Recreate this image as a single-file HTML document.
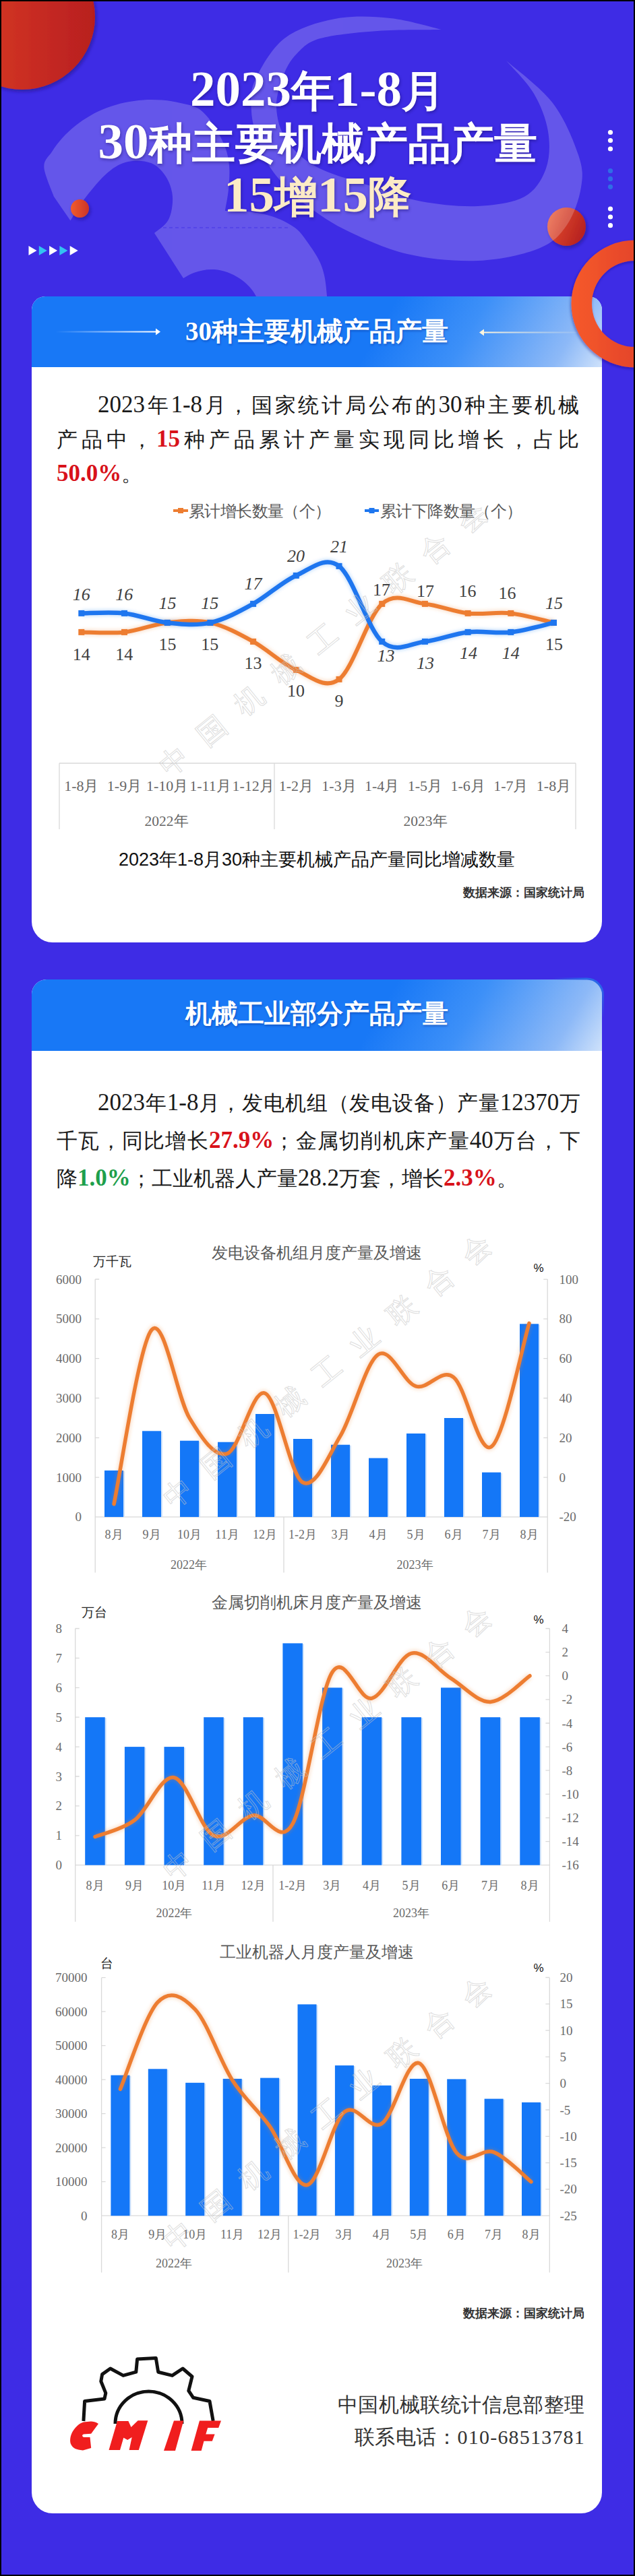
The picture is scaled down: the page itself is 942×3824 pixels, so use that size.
<!DOCTYPE html>
<html><head><meta charset="utf-8">
<style>
*{margin:0;padding:0;box-sizing:border-box}
html,body{width:942px;height:3824px;overflow:hidden;background:#000}
body{position:relative;font-family:"Liberation Serif",serif}
#bg{position:absolute;left:2px;top:2px;width:938px;height:3820px;background:#3e2ce5;overflow:hidden}
#pg{position:absolute;left:-2px;top:-2px;width:942px;height:3824px}
.abs{position:absolute}
svg{position:absolute;left:0;top:0;overflow:visible}
.title{position:absolute;left:0;width:942px;text-align:center;font-family:"Liberation Serif",serif;font-weight:900;color:#fff;font-size:64px;line-height:80px;white-space:nowrap;text-shadow:1px 2px 4px rgba(20,10,90,.45)}
.dg{font-size:75px}
.card{position:absolute;left:47px;width:846px;background:#fff;overflow:hidden}
.chead{position:absolute;left:0;top:0;width:846px;background:linear-gradient(120deg,#1878f6 0%,#1878f6 60%,#3d90f8 75%,#8db9f7 92%,#cfe2fb 100%)}
.htxt{position:absolute;left:0;width:846px;text-align:center;color:#fff;font-weight:900;font-size:39px;white-space:nowrap;text-shadow:1px 2px 3px rgba(0,30,120,.35)}
.para{position:absolute;left:37px;width:774px;font-size:30.5px;color:#1a1a1a;text-align:justify;text-align-last:auto}
.red{color:#d8121a;font-weight:bold}
.pd{font-size:35px}
.grn{color:#1e9f4c;font-weight:bold;-webkit-text-stroke:0}
</style></head><body>
<div id="bg"><div id="pg">

<svg width="942" height="600" viewBox="0 0 942 600">
<defs>
<linearGradient id="rc1" x1="0" y1="0" x2="1" y2="0"><stop offset="0" stop-color="#dd3d24"/><stop offset="1" stop-color="#b81f1f"/></linearGradient>
<linearGradient id="sph" x1="0" y1="0" x2="1" y2="0.4"><stop offset="0" stop-color="#f0663e"/><stop offset="0.5" stop-color="#d23b28"/><stop offset="1" stop-color="#b82420"/></linearGradient>
<linearGradient id="sph2" x1="0" y1="0" x2="1" y2="0"><stop offset="0" stop-color="#f25c2c"/><stop offset="1" stop-color="#cc3428"/></linearGradient>
<filter id="shd" x="-30%" y="-30%" width="160%" height="160%"><feDropShadow dx="2" dy="3" stdDeviation="2.5" flood-color="#1a0f70" flood-opacity="0.55"/></filter>
</defs>
<circle cx="33" cy="25" r="108" fill="url(#rc1)" filter="url(#shd)"/>
<circle cx="840.5" cy="336.5" r="28.5" fill="url(#sph)" filter="url(#shd)"/>
<g opacity="0.2"><path d="M80,292 C77.5,284.7 65.8,259.1 65.3,248 C64.7,236.9 72.4,232.6 76.9,225.4 C81.4,218.2 86.7,211.2 92.5,204.8 C98.3,198.3 104.8,192.2 111.7,186.7 C118.6,181.2 126.1,176.1 133.9,171.7 C141.7,167.2 150.1,163.3 158.6,160.1 C167.1,156.8 176,154.2 185,152.3 C194,150.3 203.3,149 212.5,148.4 C221.8,147.8 231.2,147.9 240.4,148.6 C249.6,149.4 258.9,150.8 267.9,152.9 C276.8,155 286.3,156.1 294.1,161.1 C302,166.2 308.5,173.9 315,183 C321.5,192.1 328.8,205.5 333,216 C337.2,226.5 339,235.2 340,246 C341,256.8 340,270 339,281 C338,292 334.8,306.8 334,312 L334,313 C339.3,313.2 354.5,312.7 366,314 C377.5,315.3 391.3,317.2 403,321 C414.7,324.8 427.3,330.8 436,337 C444.7,343.2 448.2,348.3 455,358 C461.8,367.7 472,381.3 477,395 C482,408.7 483.3,419.2 485,440 C486.7,460.8 486.7,506.7 487,520 L380,520 L380,440 C370,420 345,402 318,400 C295,399 280,408 272,413 L229,346 C232.5,342.7 245.5,335 250,326 C254.5,317 256.7,302.7 256,292 C255.3,281.3 251.3,270.3 246,262 C240.7,253.7 233.3,245.7 224,242 C214.7,238.3 200.7,237.7 190,240 C179.3,242.3 170.5,247.2 160,256 C149.5,264.8 136.2,281.1 127,293 C117.8,304.9 108.2,321.8 104.5,327.5Z" fill="#ffffff"/>
<path d="M655,44 C642.3,41.2 605.3,29.7 579,27 C552.7,24.3 523.2,23 497,28 C470.8,33 441.8,41.7 422,57 C402.2,72.3 386.2,102 378,120 C369.8,138 372.5,151.2 373,165 C373.5,178.8 377.2,190.3 381,203 C384.8,215.7 389.3,229.2 396,241 C402.7,252.8 412,264 421,274 C430,284 435.2,290 450,301 C464.8,312 484.3,327.3 510,340 C535.7,352.7 570.8,369.2 604,377 C637.2,384.8 676.5,388.3 709,387 C741.5,385.7 777,377.8 799,369 C821,360.2 830.5,349.2 841,334 C851.5,318.8 859.2,295.3 862,278 C864.8,260.7 865,250.8 858,230 C851,209.2 837.8,176.3 820,153 C802.2,129.7 762.5,100.5 751,90 L751,90 C757.8,98.2 781.7,121.5 792,139 C802.3,156.5 810,176.5 813,195 C816,213.5 815.8,233.8 810,250 C804.2,266.2 794.8,282.7 778,292 C761.2,301.3 734.5,304.8 709,306 C683.5,307.2 650.5,303.7 625,299 C599.5,294.3 581.8,286.5 556,278 C530.2,269.5 491.8,259.7 470,248 C448.2,236.3 435,222.7 425,208 C415,193.3 410.8,175.8 410,160 C409.2,144.2 415,126.3 420,113 C425,99.7 430.8,89.3 440,80 C449.2,70.7 455,62.7 475,57 C495,51.3 530,48.2 560,46 C590,43.8 639.2,44.3 655,44Z" fill="#ffffff"/></g>
<circle cx="118.5" cy="309.5" r="13.5" fill="url(#sph2)" filter="url(#shd)"/>
<line x1="233" y1="338" x2="430" y2="338" stroke="#3e2ce5" stroke-width="1.2" stroke-dasharray="5 4" opacity="0.8"/>

<circle cx="905.5" cy="196.5" r="3.6" fill="#fff"/>
<circle cx="905.5" cy="208.5" r="3.6" fill="#fff"/>
<circle cx="905.5" cy="221" r="3.6" fill="#fff"/>
<circle cx="905.5" cy="253.6" r="3.6" fill="#2f6de6"/>
<circle cx="905.5" cy="265.4" r="3.6" fill="#2f6de6"/>
<circle cx="905.5" cy="277.3" r="3.6" fill="#2f6de6"/>
<circle cx="905.5" cy="310" r="3.6" fill="#fff"/>
<circle cx="905.5" cy="322" r="3.6" fill="#fff"/>
<circle cx="905.5" cy="334.7" r="3.6" fill="#fff"/>
<path d="M42.5,365 L54.5,372 L42.5,379Z" fill="#ffffff"/>
<path d="M57.8,365 L69.8,372 L57.8,379Z" fill="#33c3f2"/>
<path d="M73.1,365 L85.1,372 L73.1,379Z" fill="#ffffff"/>
<path d="M88.4,365 L100.4,372 L88.4,379Z" fill="#33c3f2"/>
<path d="M103.7,365 L115.7,372 L103.7,379Z" fill="#ffffff"/>
</svg>
<div class="title" style="top:92px"><span class="dg">2023</span>年<span class="dg">1-8</span>月</div>
<div class="title" style="top:170px"><span class="dg">30</span>种主要机械产品产量</div>
<div class="title" style="top:249px;color:#fcebc6"><span class="dg">15</span>增<span class="dg">15</span>降</div>
<div class="card" style="top:440px;height:959px;border-radius:20px 20px 31px 31px">
<div class="chead" style="height:105px"></div>
</div>
<div class="htxt" style="left:47px;top:466px;line-height:52px">30种主要机械产品产量</div>
<svg width="942" height="600" style="top:0">
<defs>
<linearGradient id="al" x1="0" y1="0" x2="1" y2="0"><stop offset="0" stop-color="#fff" stop-opacity="0"/><stop offset="1" stop-color="#fff"/></linearGradient>
<linearGradient id="ar" x1="0" y1="0" x2="1" y2="0"><stop offset="0" stop-color="#fff5dc"/><stop offset="1" stop-color="#fff5dc" stop-opacity="0.1"/></linearGradient>
</defs>
<rect x="82" y="491.5" width="150" height="2" fill="url(#al)"/>
<path d="M231,487.5 L238,492.5 L231,497.5Z" fill="#fff"/>
<rect x="716" y="492.5" width="140" height="2" fill="url(#ar)"/>
<path d="M718,488.5 L711,493.5 L718,498.5Z" fill="#fff5dc"/>
</svg>
<div class="abs" style="left:145px;top:575px;width:714px;font-size:30.5px;line-height:51px;white-space:nowrap;color:#1a1a1a;text-align:justify;text-align-last:justify;"><span class="pd">2023</span>年<span class="pd">1-8</span>月，国家统计局公布的<span class="pd">30</span>种主要机械</div>
<div class="abs" style="left:84px;top:626px;width:775px;font-size:30.5px;line-height:51px;white-space:nowrap;color:#1a1a1a;text-align:justify;text-align-last:justify;">产品中，<span class="red"><span class="pd">15</span></span>种产品累计产量实现同比增长，占比</div>
<div class="abs" style="left:84px;top:677px;width:775px;font-size:30.5px;line-height:51px;white-space:nowrap;color:#1a1a1a;text-align:left;"><span class="red"><span class="pd">50.0%</span></span>。</div>
<svg width="942" height="1400" style="top:0">
<defs><filter id="glw" x="-10%" y="-30%" width="120%" height="160%"><feGaussianBlur stdDeviation="2.5"/></filter></defs>
<g stroke="#d9d9d9" stroke-width="1.3" fill="none"><path d="M88,1133 H854 M88,1133 V1231 M407,1133 V1231 M854,1133 V1231"/></g>
<path d="M120.8,938.4 C131.4,938.4 163.3,940.7 184.5,938.4 C205.7,936.1 227,926.7 248.2,924.4 C269.4,922.1 290.7,919.7 311.9,924.4 C333.1,929.1 354.4,940.7 375.6,952.4 C396.8,964.1 418.1,985.1 439.3,994.4 C460.5,1003.7 481.8,1024.7 503,1008.4 C524.2,992.1 545.5,915.1 566.7,896.4 C587.9,877.7 609.2,894.1 630.4,896.4 C651.6,898.7 672.9,908.1 694.1,910.4 C715.3,912.7 736.6,908.1 757.8,910.4 C779,912.7 810.9,922.1 821.5,924.4" fill="none" stroke="#ed7d31" stroke-width="9" stroke-opacity="0.25" filter="url(#glw)"/>
<path d="M120.8,910.4 C131.4,910.4 163.3,908.1 184.5,910.4 C205.7,912.7 227,922.1 248.2,924.4 C269.4,926.7 290.7,929.1 311.9,924.4 C333.1,919.7 354.4,908.1 375.6,896.4 C396.8,884.7 418.1,863.7 439.3,854.4 C460.5,845.1 481.8,824.1 503,840.4 C524.2,856.7 545.5,933.7 566.7,952.4 C587.9,971.1 609.2,954.7 630.4,952.4 C651.6,950.1 672.9,940.7 694.1,938.4 C715.3,936.1 736.6,940.7 757.8,938.4 C779,936.1 810.9,926.7 821.5,924.4" fill="none" stroke="#1e76ef" stroke-width="9" stroke-opacity="0.25" filter="url(#glw)"/>
<path d="M120.8,938.4 C131.4,938.4 163.3,940.7 184.5,938.4 C205.7,936.1 227,926.7 248.2,924.4 C269.4,922.1 290.7,919.7 311.9,924.4 C333.1,929.1 354.4,940.7 375.6,952.4 C396.8,964.1 418.1,985.1 439.3,994.4 C460.5,1003.7 481.8,1024.7 503,1008.4 C524.2,992.1 545.5,915.1 566.7,896.4 C587.9,877.7 609.2,894.1 630.4,896.4 C651.6,898.7 672.9,908.1 694.1,910.4 C715.3,912.7 736.6,908.1 757.8,910.4 C779,912.7 810.9,922.1 821.5,924.4" fill="none" stroke="#ed7d31" stroke-width="6" stroke-linecap="round"/>
<rect x="116.3" y="933.9" width="9" height="9" fill="#ed7d31"/>
<rect x="180" y="933.9" width="9" height="9" fill="#ed7d31"/>
<rect x="243.7" y="919.9" width="9" height="9" fill="#ed7d31"/>
<rect x="307.4" y="919.9" width="9" height="9" fill="#ed7d31"/>
<rect x="371.1" y="947.9" width="9" height="9" fill="#ed7d31"/>
<rect x="434.8" y="989.9" width="9" height="9" fill="#ed7d31"/>
<rect x="498.5" y="1003.9" width="9" height="9" fill="#ed7d31"/>
<rect x="562.2" y="891.9" width="9" height="9" fill="#ed7d31"/>
<rect x="625.9" y="891.9" width="9" height="9" fill="#ed7d31"/>
<rect x="689.6" y="905.9" width="9" height="9" fill="#ed7d31"/>
<rect x="753.3" y="905.9" width="9" height="9" fill="#ed7d31"/>
<rect x="817" y="919.9" width="9" height="9" fill="#ed7d31"/>
<path d="M120.8,910.4 C131.4,910.4 163.3,908.1 184.5,910.4 C205.7,912.7 227,922.1 248.2,924.4 C269.4,926.7 290.7,929.1 311.9,924.4 C333.1,919.7 354.4,908.1 375.6,896.4 C396.8,884.7 418.1,863.7 439.3,854.4 C460.5,845.1 481.8,824.1 503,840.4 C524.2,856.7 545.5,933.7 566.7,952.4 C587.9,971.1 609.2,954.7 630.4,952.4 C651.6,950.1 672.9,940.7 694.1,938.4 C715.3,936.1 736.6,940.7 757.8,938.4 C779,936.1 810.9,926.7 821.5,924.4" fill="none" stroke="#1e76ef" stroke-width="6.5" stroke-linecap="round"/>
<rect x="116.3" y="905.9" width="9" height="9" fill="#1e76ef"/>
<rect x="180" y="905.9" width="9" height="9" fill="#1e76ef"/>
<rect x="243.7" y="919.9" width="9" height="9" fill="#1e76ef"/>
<rect x="307.4" y="919.9" width="9" height="9" fill="#1e76ef"/>
<rect x="371.1" y="891.9" width="9" height="9" fill="#1e76ef"/>
<rect x="434.8" y="849.9" width="9" height="9" fill="#1e76ef"/>
<rect x="498.5" y="835.9" width="9" height="9" fill="#1e76ef"/>
<rect x="562.2" y="947.9" width="9" height="9" fill="#1e76ef"/>
<rect x="625.9" y="947.9" width="9" height="9" fill="#1e76ef"/>
<rect x="689.6" y="933.9" width="9" height="9" fill="#1e76ef"/>
<rect x="753.3" y="933.9" width="9" height="9" fill="#1e76ef"/>
<rect x="817" y="919.9" width="9" height="9" fill="#1e76ef"/>
<text x="259" y="1130" transform="rotate(-39 259 1130)" text-anchor="middle" dominant-baseline="central" font-size="42" fill="none" stroke="#c4c4c4" stroke-opacity="0.55" stroke-width="1.1" font-family="Liberation Serif">中</text><text x="314.2" y="1084.8" transform="rotate(-39 314.2 1084.8)" text-anchor="middle" dominant-baseline="central" font-size="42" fill="none" stroke="#c4c4c4" stroke-opacity="0.55" stroke-width="1.1" font-family="Liberation Serif">国</text><text x="369.4" y="1039.6" transform="rotate(-39 369.4 1039.6)" text-anchor="middle" dominant-baseline="central" font-size="42" fill="none" stroke="#c4c4c4" stroke-opacity="0.55" stroke-width="1.1" font-family="Liberation Serif">机</text><text x="424.6" y="994.4" transform="rotate(-39 424.6 994.4)" text-anchor="middle" dominant-baseline="central" font-size="42" fill="none" stroke="#c4c4c4" stroke-opacity="0.55" stroke-width="1.1" font-family="Liberation Serif">械</text><text x="479.8" y="949.2" transform="rotate(-39 479.8 949.2)" text-anchor="middle" dominant-baseline="central" font-size="42" fill="none" stroke="#c4c4c4" stroke-opacity="0.55" stroke-width="1.1" font-family="Liberation Serif">工</text><text x="535" y="904" transform="rotate(-39 535 904)" text-anchor="middle" dominant-baseline="central" font-size="42" fill="none" stroke="#c4c4c4" stroke-opacity="0.55" stroke-width="1.1" font-family="Liberation Serif">业</text><text x="590.2" y="858.8" transform="rotate(-39 590.2 858.8)" text-anchor="middle" dominant-baseline="central" font-size="42" fill="none" stroke="#c4c4c4" stroke-opacity="0.55" stroke-width="1.1" font-family="Liberation Serif">联</text><text x="645.4" y="813.6" transform="rotate(-39 645.4 813.6)" text-anchor="middle" dominant-baseline="central" font-size="42" fill="none" stroke="#c4c4c4" stroke-opacity="0.55" stroke-width="1.1" font-family="Liberation Serif">合</text><text x="700.6" y="768.4" transform="rotate(-39 700.6 768.4)" text-anchor="middle" dominant-baseline="central" font-size="42" fill="none" stroke="#c4c4c4" stroke-opacity="0.55" stroke-width="1.1" font-family="Liberation Serif">会</text>
<text x="120.8" y="882" text-anchor="middle" dominant-baseline="central" font-size="26" font-style="italic" fill="#404040" font-family="Liberation Serif">16</text>
<text x="184.3" y="882" text-anchor="middle" dominant-baseline="central" font-size="26" font-style="italic" fill="#404040" font-family="Liberation Serif">16</text>
<text x="248.5" y="895.3" text-anchor="middle" dominant-baseline="central" font-size="26" font-style="italic" fill="#404040" font-family="Liberation Serif">15</text>
<text x="311.3" y="895.3" text-anchor="middle" dominant-baseline="central" font-size="26" font-style="italic" fill="#404040" font-family="Liberation Serif">15</text>
<text x="375.5" y="866.8" text-anchor="middle" dominant-baseline="central" font-size="26" font-style="italic" fill="#404040" font-family="Liberation Serif">17</text>
<text x="439" y="825.8" text-anchor="middle" dominant-baseline="central" font-size="26" font-style="italic" fill="#404040" font-family="Liberation Serif">20</text>
<text x="503" y="811.3" text-anchor="middle" dominant-baseline="central" font-size="26" font-style="italic" fill="#404040" font-family="Liberation Serif">21</text>
<text x="572.6" y="973.3" text-anchor="middle" dominant-baseline="central" font-size="26" font-style="italic" fill="#404040" font-family="Liberation Serif">13</text>
<text x="631" y="984.5" text-anchor="middle" dominant-baseline="central" font-size="26" font-style="italic" fill="#404040" font-family="Liberation Serif">13</text>
<text x="695" y="969.3" text-anchor="middle" dominant-baseline="central" font-size="26" font-style="italic" fill="#404040" font-family="Liberation Serif">14</text>
<text x="757.8" y="969.3" text-anchor="middle" dominant-baseline="central" font-size="26" font-style="italic" fill="#404040" font-family="Liberation Serif">14</text>
<text x="822" y="895.3" text-anchor="middle" dominant-baseline="central" font-size="26" font-style="italic" fill="#404040" font-family="Liberation Serif">15</text>
<text x="120.8" y="971.3" text-anchor="middle" dominant-baseline="central" font-size="26" fill="#404040" font-family="Liberation Serif">14</text>
<text x="184.3" y="971.3" text-anchor="middle" dominant-baseline="central" font-size="26" fill="#404040" font-family="Liberation Serif">14</text>
<text x="248.5" y="956" text-anchor="middle" dominant-baseline="central" font-size="26" fill="#404040" font-family="Liberation Serif">15</text>
<text x="311.3" y="956" text-anchor="middle" dominant-baseline="central" font-size="26" fill="#404040" font-family="Liberation Serif">15</text>
<text x="375.5" y="984.5" text-anchor="middle" dominant-baseline="central" font-size="26" fill="#404040" font-family="Liberation Serif">13</text>
<text x="439" y="1025.5" text-anchor="middle" dominant-baseline="central" font-size="26" fill="#404040" font-family="Liberation Serif">10</text>
<text x="503" y="1040.8" text-anchor="middle" dominant-baseline="central" font-size="26" fill="#404040" font-family="Liberation Serif">9</text>
<text x="566" y="875.4" text-anchor="middle" dominant-baseline="central" font-size="26" fill="#404040" font-family="Liberation Serif">17</text>
<text x="631" y="877.4" text-anchor="middle" dominant-baseline="central" font-size="26" fill="#404040" font-family="Liberation Serif">17</text>
<text x="693.6" y="877.4" text-anchor="middle" dominant-baseline="central" font-size="26" fill="#404040" font-family="Liberation Serif">16</text>
<text x="752.5" y="880" text-anchor="middle" dominant-baseline="central" font-size="26" fill="#404040" font-family="Liberation Serif">16</text>
<text x="822" y="956" text-anchor="middle" dominant-baseline="central" font-size="26" fill="#404040" font-family="Liberation Serif">15</text>
<path d="M257,758 H279" stroke="#ed7d31" stroke-width="4"/><rect x="264" y="754" width="8" height="8" fill="#ed7d31"/>
<path d="M541,758 H562" stroke="#1e76ef" stroke-width="4"/><rect x="547.5" y="754" width="8" height="8" fill="#1e76ef"/>
<text x="280" y="759" dominant-baseline="central" font-size="23.5" fill="#595959" font-family="Liberation Sans" textLength="211">累计增长数量（个）</text>
<text x="564" y="759" dominant-baseline="central" font-size="23.5" fill="#595959" font-family="Liberation Sans" textLength="211">累计下降数量（个）</text>
<text x="120.8" y="1166" text-anchor="middle" dominant-baseline="central" font-size="22" fill="#666" font-family="Liberation Serif">1-8月</text>
<text x="184.5" y="1166" text-anchor="middle" dominant-baseline="central" font-size="22" fill="#666" font-family="Liberation Serif">1-9月</text>
<text x="248.2" y="1166" text-anchor="middle" dominant-baseline="central" font-size="22" fill="#666" font-family="Liberation Serif">1-10月</text>
<text x="311.9" y="1166" text-anchor="middle" dominant-baseline="central" font-size="22" fill="#666" font-family="Liberation Serif">1-11月</text>
<text x="375.6" y="1166" text-anchor="middle" dominant-baseline="central" font-size="22" fill="#666" font-family="Liberation Serif">1-12月</text>
<text x="439.3" y="1166" text-anchor="middle" dominant-baseline="central" font-size="22" fill="#666" font-family="Liberation Serif">1-2月</text>
<text x="503" y="1166" text-anchor="middle" dominant-baseline="central" font-size="22" fill="#666" font-family="Liberation Serif">1-3月</text>
<text x="566.7" y="1166" text-anchor="middle" dominant-baseline="central" font-size="22" fill="#666" font-family="Liberation Serif">1-4月</text>
<text x="630.4" y="1166" text-anchor="middle" dominant-baseline="central" font-size="22" fill="#666" font-family="Liberation Serif">1-5月</text>
<text x="694.1" y="1166" text-anchor="middle" dominant-baseline="central" font-size="22" fill="#666" font-family="Liberation Serif">1-6月</text>
<text x="757.8" y="1166" text-anchor="middle" dominant-baseline="central" font-size="22" fill="#666" font-family="Liberation Serif">1-7月</text>
<text x="821.5" y="1166" text-anchor="middle" dominant-baseline="central" font-size="22" fill="#666" font-family="Liberation Serif">1-8月</text>
<text x="247" y="1219" text-anchor="middle" dominant-baseline="central" font-size="21.5" fill="#666" font-family="Liberation Serif">2022年</text>
<text x="631" y="1219" text-anchor="middle" dominant-baseline="central" font-size="21.5" fill="#666" font-family="Liberation Serif">2023年</text>
<text x="470" y="1276" text-anchor="middle" dominant-baseline="central" font-size="27" fill="#111" font-family="Liberation Sans">2023年1-8月30种主要机械产品产量同比增减数量</text>
<text x="867" y="1325" text-anchor="end" dominant-baseline="central" font-size="17.5" font-weight="bold" fill="#333" font-family="Liberation Sans">数据来源：国家统计局</text>
</svg>
<div class="card" style="top:1454px;height:2277px;border-radius:22px 22px 31px 31px">
<div class="chead" style="height:106px"></div>
</div>
<div class="htxt" style="left:47px;top:1479px;line-height:52px">机械工业部分产品产量</div>
<div class="abs" style="left:145px;top:1609px;width:716px;font-size:30.5px;line-height:56px;white-space:nowrap;color:#1a1a1a;text-align:justify;text-align-last:justify;"><span class="pd">2023</span>年<span class="pd">1-8</span>月，发电机组（发电设备）产量<span class="pd">12370</span>万</div>
<div class="abs" style="left:84px;top:1665px;width:777px;font-size:30.5px;line-height:56px;white-space:nowrap;color:#1a1a1a;text-align:justify;text-align-last:justify;">千瓦，同比增长<span class="red"><span class="pd">27.9%</span></span>；金属切削机床产量<span class="pd">40</span>万台，下</div>
<div class="abs" style="left:84px;top:1721px;width:777px;font-size:30.5px;line-height:56px;white-space:nowrap;color:#1a1a1a;text-align:left;">降<span class="grn"><span class="pd">1.0%</span></span>；工业机器人产量<span class="pd">28.2</span>万套，增长<span class="red"><span class="pd">2.3%</span></span>。</div>
<svg width="942" height="3824" style="top:0">
<defs><linearGradient id="rim" gradientUnits="userSpaceOnUse" x1="820" y1="1452" x2="896" y2="1510"><stop offset="0" stop-color="#2a66e8" stop-opacity="0"/><stop offset="0.4" stop-color="#2a66e8" stop-opacity="1"/><stop offset="0.7" stop-color="#2a66e8" stop-opacity="1"/><stop offset="1" stop-color="#2a66e8" stop-opacity="0"/></linearGradient></defs>
<path d="M820,1453 H870 A24,24 0 0 1 894.5,1477 V1510" stroke="url(#rim)" stroke-width="3" fill="none"/>
<path d="M141.2,1899.1 V2334.5 M812.2,1899.1 V2334.5 M141.2,2251.9 H812.2 M421,2251.9 V2334.5 M141.2,2251.9 H147.2 M141.2,2193.1 H147.2 M141.2,2134.3 H147.2 M141.2,2075.4 H147.2 M141.2,2016.6 H147.2 M141.2,1957.8 H147.2 M141.2,1899 H147.2 M806.2,2251.9 H812.2 M806.2,2193.1 H812.2 M806.2,2134.3 H812.2 M806.2,2075.5 H812.2 M806.2,2016.7 H812.2 M806.2,1957.9 H812.2 M806.2,1899.1 H812.2" stroke="#d9d9d9" stroke-width="1.3" fill="none"/>
<rect x="157" y="2183.9" width="28" height="68" fill="#cfe3fb"/>
<rect x="155" y="2182.9" width="28" height="69" fill="#1477f7"/>
<rect x="213" y="2125.3" width="28" height="126.6" fill="#cfe3fb"/>
<rect x="211" y="2124.3" width="28" height="127.6" fill="#1477f7"/>
<rect x="269" y="2139.7" width="28" height="112.2" fill="#cfe3fb"/>
<rect x="267" y="2138.7" width="28" height="113.2" fill="#1477f7"/>
<rect x="325" y="2141.7" width="28" height="110.2" fill="#cfe3fb"/>
<rect x="323" y="2140.7" width="28" height="111.2" fill="#1477f7"/>
<rect x="381" y="2100" width="28" height="151.9" fill="#cfe3fb"/>
<rect x="379" y="2099" width="28" height="152.9" fill="#1477f7"/>
<rect x="437" y="2137" width="28" height="114.9" fill="#cfe3fb"/>
<rect x="435" y="2136" width="28" height="115.9" fill="#1477f7"/>
<rect x="493" y="2145.7" width="28" height="106.2" fill="#cfe3fb"/>
<rect x="491" y="2144.7" width="28" height="107.2" fill="#1477f7"/>
<rect x="549" y="2165.5" width="28" height="86.4" fill="#cfe3fb"/>
<rect x="547" y="2164.5" width="28" height="87.4" fill="#1477f7"/>
<rect x="605" y="2129" width="28" height="122.9" fill="#cfe3fb"/>
<rect x="603" y="2128" width="28" height="123.9" fill="#1477f7"/>
<rect x="661" y="2106" width="28" height="145.9" fill="#cfe3fb"/>
<rect x="659" y="2105" width="28" height="146.9" fill="#1477f7"/>
<rect x="717" y="2186.7" width="28" height="65.2" fill="#cfe3fb"/>
<rect x="715" y="2185.7" width="28" height="66.2" fill="#1477f7"/>
<rect x="773" y="1966.3" width="28" height="285.6" fill="#cfe3fb"/>
<rect x="771" y="1965.3" width="28" height="286.6" fill="#1477f7"/>
<path d="M169,2232.8 C178.3,2189.7 206.3,1995.4 225,1974.1 C243.7,1952.8 262.3,2074.3 281,2104.9 C299.7,2135.5 318.3,2163.9 337,2157.8 C355.7,2151.7 374.3,2061 393,2068.2 C411.7,2075.3 430.3,2189.9 449,2200.5 C467.7,2211 486.3,2163 505,2131.4 C523.7,2099.8 542.3,2023.1 561,2010.8 C579.7,1998.6 598.3,2052.2 617,2057.9 C635.7,2063.5 654.3,2029.7 673,2044.6 C691.7,2059.6 710.3,2160.9 729,2147.5 C747.7,2134.2 775.7,1994.9 785,1964.4" fill="none" stroke="#ed7d31" stroke-width="9" stroke-opacity="0.25" filter="url(#glw)"/>
<path d="M169,2232.8 C178.3,2189.7 206.3,1995.4 225,1974.1 C243.7,1952.8 262.3,2074.3 281,2104.9 C299.7,2135.5 318.3,2163.9 337,2157.8 C355.7,2151.7 374.3,2061 393,2068.2 C411.7,2075.3 430.3,2189.9 449,2200.5 C467.7,2211 486.3,2163 505,2131.4 C523.7,2099.8 542.3,2023.1 561,2010.8 C579.7,1998.6 598.3,2052.2 617,2057.9 C635.7,2063.5 654.3,2029.7 673,2044.6 C691.7,2059.6 710.3,2160.9 729,2147.5 C747.7,2134.2 775.7,1994.9 785,1964.4" fill="none" stroke="#ed7d31" stroke-width="5.5" stroke-linecap="round"/>
<text x="265" y="2217" transform="rotate(-39 265 2217)" text-anchor="middle" dominant-baseline="central" font-size="42" fill="none" stroke="#c4c4c4" stroke-opacity="0.55" stroke-width="1.1" font-family="Liberation Serif">中</text><text x="320.2" y="2171.8" transform="rotate(-39 320.2 2171.8)" text-anchor="middle" dominant-baseline="central" font-size="42" fill="none" stroke="#c4c4c4" stroke-opacity="0.55" stroke-width="1.1" font-family="Liberation Serif">国</text><text x="375.4" y="2126.6" transform="rotate(-39 375.4 2126.6)" text-anchor="middle" dominant-baseline="central" font-size="42" fill="none" stroke="#c4c4c4" stroke-opacity="0.55" stroke-width="1.1" font-family="Liberation Serif">机</text><text x="430.6" y="2081.4" transform="rotate(-39 430.6 2081.4)" text-anchor="middle" dominant-baseline="central" font-size="42" fill="none" stroke="#c4c4c4" stroke-opacity="0.55" stroke-width="1.1" font-family="Liberation Serif">械</text><text x="485.8" y="2036.2" transform="rotate(-39 485.8 2036.2)" text-anchor="middle" dominant-baseline="central" font-size="42" fill="none" stroke="#c4c4c4" stroke-opacity="0.55" stroke-width="1.1" font-family="Liberation Serif">工</text><text x="541" y="1991" transform="rotate(-39 541 1991)" text-anchor="middle" dominant-baseline="central" font-size="42" fill="none" stroke="#c4c4c4" stroke-opacity="0.55" stroke-width="1.1" font-family="Liberation Serif">业</text><text x="596.2" y="1945.8" transform="rotate(-39 596.2 1945.8)" text-anchor="middle" dominant-baseline="central" font-size="42" fill="none" stroke="#c4c4c4" stroke-opacity="0.55" stroke-width="1.1" font-family="Liberation Serif">联</text><text x="651.4" y="1900.6" transform="rotate(-39 651.4 1900.6)" text-anchor="middle" dominant-baseline="central" font-size="42" fill="none" stroke="#c4c4c4" stroke-opacity="0.55" stroke-width="1.1" font-family="Liberation Serif">合</text><text x="706.6" y="1855.4" transform="rotate(-39 706.6 1855.4)" text-anchor="middle" dominant-baseline="central" font-size="42" fill="none" stroke="#c4c4c4" stroke-opacity="0.55" stroke-width="1.1" font-family="Liberation Serif">会</text>
<text x="121" y="2251.9" text-anchor="end" dominant-baseline="central" font-size="19" fill="#6b6b6b" font-family="Liberation Serif">0</text>
<text x="121" y="2193.1" text-anchor="end" dominant-baseline="central" font-size="19" fill="#6b6b6b" font-family="Liberation Serif">1000</text>
<text x="121" y="2134.3" text-anchor="end" dominant-baseline="central" font-size="19" fill="#6b6b6b" font-family="Liberation Serif">2000</text>
<text x="121" y="2075.4" text-anchor="end" dominant-baseline="central" font-size="19" fill="#6b6b6b" font-family="Liberation Serif">3000</text>
<text x="121" y="2016.6" text-anchor="end" dominant-baseline="central" font-size="19" fill="#6b6b6b" font-family="Liberation Serif">4000</text>
<text x="121" y="1957.8" text-anchor="end" dominant-baseline="central" font-size="19" fill="#6b6b6b" font-family="Liberation Serif">5000</text>
<text x="121" y="1899" text-anchor="end" dominant-baseline="central" font-size="19" fill="#6b6b6b" font-family="Liberation Serif">6000</text>
<text x="829.5" y="2251.9" dominant-baseline="central" font-size="19" fill="#6b6b6b" font-family="Liberation Serif">-20</text>
<text x="829.5" y="2193.1" dominant-baseline="central" font-size="19" fill="#6b6b6b" font-family="Liberation Serif">0</text>
<text x="829.5" y="2134.3" dominant-baseline="central" font-size="19" fill="#6b6b6b" font-family="Liberation Serif">20</text>
<text x="829.5" y="2075.5" dominant-baseline="central" font-size="19" fill="#6b6b6b" font-family="Liberation Serif">40</text>
<text x="829.5" y="2016.7" dominant-baseline="central" font-size="19" fill="#6b6b6b" font-family="Liberation Serif">60</text>
<text x="829.5" y="1957.9" dominant-baseline="central" font-size="19" fill="#6b6b6b" font-family="Liberation Serif">80</text>
<text x="829.5" y="1899.1" dominant-baseline="central" font-size="19" fill="#6b6b6b" font-family="Liberation Serif">100</text>
<text x="169" y="2278.3" text-anchor="middle" dominant-baseline="central" font-size="18" fill="#6b6b6b" font-family="Liberation Serif">8月</text>
<text x="225" y="2278.3" text-anchor="middle" dominant-baseline="central" font-size="18" fill="#6b6b6b" font-family="Liberation Serif">9月</text>
<text x="281" y="2278.3" text-anchor="middle" dominant-baseline="central" font-size="18" fill="#6b6b6b" font-family="Liberation Serif">10月</text>
<text x="337" y="2278.3" text-anchor="middle" dominant-baseline="central" font-size="18" fill="#6b6b6b" font-family="Liberation Serif">11月</text>
<text x="393" y="2278.3" text-anchor="middle" dominant-baseline="central" font-size="18" fill="#6b6b6b" font-family="Liberation Serif">12月</text>
<text x="449" y="2278.3" text-anchor="middle" dominant-baseline="central" font-size="18" fill="#6b6b6b" font-family="Liberation Serif">1-2月</text>
<text x="505" y="2278.3" text-anchor="middle" dominant-baseline="central" font-size="18" fill="#6b6b6b" font-family="Liberation Serif">3月</text>
<text x="561" y="2278.3" text-anchor="middle" dominant-baseline="central" font-size="18" fill="#6b6b6b" font-family="Liberation Serif">4月</text>
<text x="617" y="2278.3" text-anchor="middle" dominant-baseline="central" font-size="18" fill="#6b6b6b" font-family="Liberation Serif">5月</text>
<text x="673" y="2278.3" text-anchor="middle" dominant-baseline="central" font-size="18" fill="#6b6b6b" font-family="Liberation Serif">6月</text>
<text x="729" y="2278.3" text-anchor="middle" dominant-baseline="central" font-size="18" fill="#6b6b6b" font-family="Liberation Serif">7月</text>
<text x="785" y="2278.3" text-anchor="middle" dominant-baseline="central" font-size="18" fill="#6b6b6b" font-family="Liberation Serif">8月</text>
<text x="280" y="2322.6" text-anchor="middle" dominant-baseline="central" font-size="18" fill="#6b6b6b" font-family="Liberation Serif">2022年</text>
<text x="615.6" y="2322.6" text-anchor="middle" dominant-baseline="central" font-size="18" fill="#6b6b6b" font-family="Liberation Serif">2023年</text>
<text x="470" y="1860" text-anchor="middle" dominant-baseline="central" font-size="23.5" fill="#595959" font-family="Liberation Sans">发电设备机组月度产量及增速</text>
<text x="138" y="1872" dominant-baseline="central" font-size="19" fill="#262626" font-family="Liberation Sans">万千瓦</text>
<text x="799" y="1882.6" text-anchor="middle" dominant-baseline="central" font-size="17" fill="#111" font-family="Liberation Sans">%</text>
<path d="M111.7,2417.5 V2852.8 M815.4,2417.5 V2852.8 M111.7,2768.7 H815.4 M405,2768.7 V2852.8 M111.7,2768.7 H117.7 M111.7,2724.8 H117.7 M111.7,2680.9 H117.7 M111.7,2637 H117.7 M111.7,2593.1 H117.7 M111.7,2549.2 H117.7 M111.7,2505.3 H117.7 M111.7,2461.4 H117.7 M111.7,2417.5 H117.7 M809.4,2768.7 H815.4 M809.4,2733.6 H815.4 M809.4,2698.5 H815.4 M809.4,2663.3 H815.4 M809.4,2628.2 H815.4 M809.4,2593.1 H815.4 M809.4,2558 H815.4 M809.4,2522.9 H815.4 M809.4,2487.7 H815.4 M809.4,2452.6 H815.4 M809.4,2417.5 H815.4" stroke="#d9d9d9" stroke-width="1.3" fill="none"/>
<rect x="128.2" y="2550.2" width="29.5" height="218.5" fill="#cfe3fb"/>
<rect x="126.2" y="2549.2" width="29.5" height="219.5" fill="#1477f7"/>
<rect x="186.9" y="2594.1" width="29.5" height="174.6" fill="#cfe3fb"/>
<rect x="184.9" y="2593.1" width="29.5" height="175.6" fill="#1477f7"/>
<rect x="245.5" y="2594.1" width="29.5" height="174.6" fill="#cfe3fb"/>
<rect x="243.5" y="2593.1" width="29.5" height="175.6" fill="#1477f7"/>
<rect x="304.2" y="2550.2" width="29.5" height="218.5" fill="#cfe3fb"/>
<rect x="302.2" y="2549.2" width="29.5" height="219.5" fill="#1477f7"/>
<rect x="362.8" y="2550.2" width="29.5" height="218.5" fill="#cfe3fb"/>
<rect x="360.8" y="2549.2" width="29.5" height="219.5" fill="#1477f7"/>
<rect x="421.4" y="2440.4" width="29.5" height="328.2" fill="#cfe3fb"/>
<rect x="419.4" y="2439.4" width="29.5" height="329.2" fill="#1477f7"/>
<rect x="480.1" y="2506.3" width="29.5" height="262.4" fill="#cfe3fb"/>
<rect x="478.1" y="2505.3" width="29.5" height="263.4" fill="#1477f7"/>
<rect x="538.7" y="2550.2" width="29.5" height="218.5" fill="#cfe3fb"/>
<rect x="536.7" y="2549.2" width="29.5" height="219.5" fill="#1477f7"/>
<rect x="597.4" y="2550.2" width="29.5" height="218.5" fill="#cfe3fb"/>
<rect x="595.4" y="2549.2" width="29.5" height="219.5" fill="#1477f7"/>
<rect x="656" y="2506.3" width="29.5" height="262.4" fill="#cfe3fb"/>
<rect x="654" y="2505.3" width="29.5" height="263.4" fill="#1477f7"/>
<rect x="714.6" y="2550.2" width="29.5" height="218.5" fill="#cfe3fb"/>
<rect x="712.6" y="2549.2" width="29.5" height="219.5" fill="#1477f7"/>
<rect x="773.3" y="2550.2" width="29.5" height="218.5" fill="#cfe3fb"/>
<rect x="771.3" y="2549.2" width="29.5" height="219.5" fill="#1477f7"/>
<path d="M141,2726.6 C150.8,2722.5 180.1,2716.6 199.6,2702 C219.2,2687.3 238.7,2635 258.3,2638.8 C277.8,2642.6 297.4,2715.4 316.9,2724.8 C336.5,2734.2 356,2697.9 375.6,2694.9 C395.1,2692 414.7,2742.7 434.2,2707.2 C453.7,2671.8 473.3,2513.5 492.8,2482.5 C512.4,2451.4 531.9,2525.8 551.5,2521.1 C571,2516.4 590.6,2459.4 610.1,2454.4 C629.7,2449.4 649.2,2479.3 668.8,2491.3 C688.3,2503.3 707.9,2527 727.4,2526.4 C746.9,2525.8 776.3,2494.2 786,2487.7" fill="none" stroke="#ed7d31" stroke-width="9" stroke-opacity="0.25" filter="url(#glw)"/>
<path d="M141,2726.6 C150.8,2722.5 180.1,2716.6 199.6,2702 C219.2,2687.3 238.7,2635 258.3,2638.8 C277.8,2642.6 297.4,2715.4 316.9,2724.8 C336.5,2734.2 356,2697.9 375.6,2694.9 C395.1,2692 414.7,2742.7 434.2,2707.2 C453.7,2671.8 473.3,2513.5 492.8,2482.5 C512.4,2451.4 531.9,2525.8 551.5,2521.1 C571,2516.4 590.6,2459.4 610.1,2454.4 C629.7,2449.4 649.2,2479.3 668.8,2491.3 C688.3,2503.3 707.9,2527 727.4,2526.4 C746.9,2525.8 776.3,2494.2 786,2487.7" fill="none" stroke="#ed7d31" stroke-width="5.5" stroke-linecap="round"/>
<text x="265" y="2769" transform="rotate(-39 265 2769)" text-anchor="middle" dominant-baseline="central" font-size="42" fill="none" stroke="#c4c4c4" stroke-opacity="0.55" stroke-width="1.1" font-family="Liberation Serif">中</text><text x="320.2" y="2723.8" transform="rotate(-39 320.2 2723.8)" text-anchor="middle" dominant-baseline="central" font-size="42" fill="none" stroke="#c4c4c4" stroke-opacity="0.55" stroke-width="1.1" font-family="Liberation Serif">国</text><text x="375.4" y="2678.6" transform="rotate(-39 375.4 2678.6)" text-anchor="middle" dominant-baseline="central" font-size="42" fill="none" stroke="#c4c4c4" stroke-opacity="0.55" stroke-width="1.1" font-family="Liberation Serif">机</text><text x="430.6" y="2633.4" transform="rotate(-39 430.6 2633.4)" text-anchor="middle" dominant-baseline="central" font-size="42" fill="none" stroke="#c4c4c4" stroke-opacity="0.55" stroke-width="1.1" font-family="Liberation Serif">械</text><text x="485.8" y="2588.2" transform="rotate(-39 485.8 2588.2)" text-anchor="middle" dominant-baseline="central" font-size="42" fill="none" stroke="#c4c4c4" stroke-opacity="0.55" stroke-width="1.1" font-family="Liberation Serif">工</text><text x="541" y="2543" transform="rotate(-39 541 2543)" text-anchor="middle" dominant-baseline="central" font-size="42" fill="none" stroke="#c4c4c4" stroke-opacity="0.55" stroke-width="1.1" font-family="Liberation Serif">业</text><text x="596.2" y="2497.8" transform="rotate(-39 596.2 2497.8)" text-anchor="middle" dominant-baseline="central" font-size="42" fill="none" stroke="#c4c4c4" stroke-opacity="0.55" stroke-width="1.1" font-family="Liberation Serif">联</text><text x="651.4" y="2452.6" transform="rotate(-39 651.4 2452.6)" text-anchor="middle" dominant-baseline="central" font-size="42" fill="none" stroke="#c4c4c4" stroke-opacity="0.55" stroke-width="1.1" font-family="Liberation Serif">合</text><text x="706.6" y="2407.4" transform="rotate(-39 706.6 2407.4)" text-anchor="middle" dominant-baseline="central" font-size="42" fill="none" stroke="#c4c4c4" stroke-opacity="0.55" stroke-width="1.1" font-family="Liberation Serif">会</text>
<text x="92" y="2768.7" text-anchor="end" dominant-baseline="central" font-size="19" fill="#6b6b6b" font-family="Liberation Serif">0</text>
<text x="92" y="2724.8" text-anchor="end" dominant-baseline="central" font-size="19" fill="#6b6b6b" font-family="Liberation Serif">1</text>
<text x="92" y="2680.9" text-anchor="end" dominant-baseline="central" font-size="19" fill="#6b6b6b" font-family="Liberation Serif">2</text>
<text x="92" y="2637" text-anchor="end" dominant-baseline="central" font-size="19" fill="#6b6b6b" font-family="Liberation Serif">3</text>
<text x="92" y="2593.1" text-anchor="end" dominant-baseline="central" font-size="19" fill="#6b6b6b" font-family="Liberation Serif">4</text>
<text x="92" y="2549.2" text-anchor="end" dominant-baseline="central" font-size="19" fill="#6b6b6b" font-family="Liberation Serif">5</text>
<text x="92" y="2505.3" text-anchor="end" dominant-baseline="central" font-size="19" fill="#6b6b6b" font-family="Liberation Serif">6</text>
<text x="92" y="2461.4" text-anchor="end" dominant-baseline="central" font-size="19" fill="#6b6b6b" font-family="Liberation Serif">7</text>
<text x="92" y="2417.5" text-anchor="end" dominant-baseline="central" font-size="19" fill="#6b6b6b" font-family="Liberation Serif">8</text>
<text x="833.5" y="2768.7" dominant-baseline="central" font-size="19" fill="#6b6b6b" font-family="Liberation Serif">-16</text>
<text x="833.5" y="2733.6" dominant-baseline="central" font-size="19" fill="#6b6b6b" font-family="Liberation Serif">-14</text>
<text x="833.5" y="2698.5" dominant-baseline="central" font-size="19" fill="#6b6b6b" font-family="Liberation Serif">-12</text>
<text x="833.5" y="2663.3" dominant-baseline="central" font-size="19" fill="#6b6b6b" font-family="Liberation Serif">-10</text>
<text x="833.5" y="2628.2" dominant-baseline="central" font-size="19" fill="#6b6b6b" font-family="Liberation Serif">-8</text>
<text x="833.5" y="2593.1" dominant-baseline="central" font-size="19" fill="#6b6b6b" font-family="Liberation Serif">-6</text>
<text x="833.5" y="2558" dominant-baseline="central" font-size="19" fill="#6b6b6b" font-family="Liberation Serif">-4</text>
<text x="833.5" y="2522.9" dominant-baseline="central" font-size="19" fill="#6b6b6b" font-family="Liberation Serif">-2</text>
<text x="833.5" y="2487.7" dominant-baseline="central" font-size="19" fill="#6b6b6b" font-family="Liberation Serif">0</text>
<text x="833.5" y="2452.6" dominant-baseline="central" font-size="19" fill="#6b6b6b" font-family="Liberation Serif">2</text>
<text x="833.5" y="2417.5" dominant-baseline="central" font-size="19" fill="#6b6b6b" font-family="Liberation Serif">4</text>
<text x="141" y="2798.6" text-anchor="middle" dominant-baseline="central" font-size="18" fill="#6b6b6b" font-family="Liberation Serif">8月</text>
<text x="199.6" y="2798.6" text-anchor="middle" dominant-baseline="central" font-size="18" fill="#6b6b6b" font-family="Liberation Serif">9月</text>
<text x="258.3" y="2798.6" text-anchor="middle" dominant-baseline="central" font-size="18" fill="#6b6b6b" font-family="Liberation Serif">10月</text>
<text x="316.9" y="2798.6" text-anchor="middle" dominant-baseline="central" font-size="18" fill="#6b6b6b" font-family="Liberation Serif">11月</text>
<text x="375.6" y="2798.6" text-anchor="middle" dominant-baseline="central" font-size="18" fill="#6b6b6b" font-family="Liberation Serif">12月</text>
<text x="434.2" y="2798.6" text-anchor="middle" dominant-baseline="central" font-size="18" fill="#6b6b6b" font-family="Liberation Serif">1-2月</text>
<text x="492.8" y="2798.6" text-anchor="middle" dominant-baseline="central" font-size="18" fill="#6b6b6b" font-family="Liberation Serif">3月</text>
<text x="551.5" y="2798.6" text-anchor="middle" dominant-baseline="central" font-size="18" fill="#6b6b6b" font-family="Liberation Serif">4月</text>
<text x="610.1" y="2798.6" text-anchor="middle" dominant-baseline="central" font-size="18" fill="#6b6b6b" font-family="Liberation Serif">5月</text>
<text x="668.8" y="2798.6" text-anchor="middle" dominant-baseline="central" font-size="18" fill="#6b6b6b" font-family="Liberation Serif">6月</text>
<text x="727.4" y="2798.6" text-anchor="middle" dominant-baseline="central" font-size="18" fill="#6b6b6b" font-family="Liberation Serif">7月</text>
<text x="786" y="2798.6" text-anchor="middle" dominant-baseline="central" font-size="18" fill="#6b6b6b" font-family="Liberation Serif">8月</text>
<text x="258.4" y="2840.2" text-anchor="middle" dominant-baseline="central" font-size="18" fill="#6b6b6b" font-family="Liberation Serif">2022年</text>
<text x="610" y="2840.2" text-anchor="middle" dominant-baseline="central" font-size="18" fill="#6b6b6b" font-family="Liberation Serif">2023年</text>
<text x="470" y="2378.5" text-anchor="middle" dominant-baseline="central" font-size="23.5" fill="#595959" font-family="Liberation Sans">金属切削机床月度产量及增速</text>
<text x="121" y="2393" dominant-baseline="central" font-size="19" fill="#262626" font-family="Liberation Sans">万台</text>
<text x="799" y="2404.3" text-anchor="middle" dominant-baseline="central" font-size="17" fill="#111" font-family="Liberation Sans">%</text>
<path d="M150.6,2936.1 V3373.4 M815.3,2936.1 V3373.4 M150.6,3289.2 H815.3 M427.8,3289.2 V3373.4 M150.6,3289.2 H156.6 M150.6,3238.7 H156.6 M150.6,3188.2 H156.6 M150.6,3137.7 H156.6 M150.6,3087.2 H156.6 M150.6,3036.7 H156.6 M150.6,2986.2 H156.6 M150.6,2935.7 H156.6 M809.3,3289.2 H815.3 M809.3,3249.9 H815.3 M809.3,3210.6 H815.3 M809.3,3171.3 H815.3 M809.3,3132 H815.3 M809.3,3092.7 H815.3 M809.3,3053.4 H815.3 M809.3,3014.1 H815.3 M809.3,2974.8 H815.3 M809.3,2935.5 H815.3" stroke="#d9d9d9" stroke-width="1.3" fill="none"/>
<rect x="166.4" y="3081.6" width="28" height="207.6" fill="#cfe3fb"/>
<rect x="164.4" y="3080.6" width="28" height="208.6" fill="#1477f7"/>
<rect x="221.8" y="3072.3" width="28" height="216.9" fill="#cfe3fb"/>
<rect x="219.8" y="3071.3" width="28" height="217.9" fill="#1477f7"/>
<rect x="277.2" y="3092.8" width="28" height="196.4" fill="#cfe3fb"/>
<rect x="275.2" y="3091.8" width="28" height="197.4" fill="#1477f7"/>
<rect x="332.7" y="3086.9" width="28" height="202.3" fill="#cfe3fb"/>
<rect x="330.7" y="3085.9" width="28" height="203.3" fill="#1477f7"/>
<rect x="388.1" y="3085.6" width="28" height="203.6" fill="#cfe3fb"/>
<rect x="386.1" y="3084.6" width="28" height="204.6" fill="#1477f7"/>
<rect x="443.5" y="2976.4" width="28" height="312.8" fill="#cfe3fb"/>
<rect x="441.5" y="2975.4" width="28" height="313.8" fill="#1477f7"/>
<rect x="498.9" y="3067.1" width="28" height="222.1" fill="#cfe3fb"/>
<rect x="496.9" y="3066.1" width="28" height="223.1" fill="#1477f7"/>
<rect x="554.3" y="3096.8" width="28" height="192.4" fill="#cfe3fb"/>
<rect x="552.3" y="3095.8" width="28" height="193.4" fill="#1477f7"/>
<rect x="609.8" y="3086.9" width="28" height="202.3" fill="#cfe3fb"/>
<rect x="607.8" y="3085.9" width="28" height="203.3" fill="#1477f7"/>
<rect x="665.2" y="3087.4" width="28" height="201.8" fill="#cfe3fb"/>
<rect x="663.2" y="3086.4" width="28" height="202.8" fill="#1477f7"/>
<rect x="720.6" y="3116.6" width="28" height="172.6" fill="#cfe3fb"/>
<rect x="718.6" y="3115.6" width="28" height="173.6" fill="#1477f7"/>
<rect x="776" y="3121.9" width="28" height="167.3" fill="#cfe3fb"/>
<rect x="774" y="3120.9" width="28" height="168.3" fill="#1477f7"/>
<path d="M178.4,3101.3 C187.6,3079.9 215.3,2992.2 233.8,2972.4 C252.3,2952.7 270.8,2963.4 289.2,2982.7 C307.7,3001.9 326.2,3059 344.7,3088 C363.1,3116.9 381.6,3130.4 400.1,3156.4 C418.6,3182.3 437,3247.1 455.5,3243.6 C474,3240.1 492.4,3150.3 510.9,3135.1 C529.4,3119.9 547.9,3164.5 566.3,3152.4 C584.8,3140.4 603.3,3055.6 621.8,3062.8 C640.2,3070 658.7,3173.7 677.2,3195.7 C695.7,3217.7 714.1,3187.7 732.6,3194.9 C751.1,3202.1 778.8,3231.6 788,3238.9" fill="none" stroke="#ed7d31" stroke-width="9" stroke-opacity="0.25" filter="url(#glw)"/>
<path d="M178.4,3101.3 C187.6,3079.9 215.3,2992.2 233.8,2972.4 C252.3,2952.7 270.8,2963.4 289.2,2982.7 C307.7,3001.9 326.2,3059 344.7,3088 C363.1,3116.9 381.6,3130.4 400.1,3156.4 C418.6,3182.3 437,3247.1 455.5,3243.6 C474,3240.1 492.4,3150.3 510.9,3135.1 C529.4,3119.9 547.9,3164.5 566.3,3152.4 C584.8,3140.4 603.3,3055.6 621.8,3062.8 C640.2,3070 658.7,3173.7 677.2,3195.7 C695.7,3217.7 714.1,3187.7 732.6,3194.9 C751.1,3202.1 778.8,3231.6 788,3238.9" fill="none" stroke="#ed7d31" stroke-width="5.5" stroke-linecap="round"/>
<text x="265" y="3319" transform="rotate(-39 265 3319)" text-anchor="middle" dominant-baseline="central" font-size="42" fill="none" stroke="#c4c4c4" stroke-opacity="0.55" stroke-width="1.1" font-family="Liberation Serif">中</text><text x="320.2" y="3273.8" transform="rotate(-39 320.2 3273.8)" text-anchor="middle" dominant-baseline="central" font-size="42" fill="none" stroke="#c4c4c4" stroke-opacity="0.55" stroke-width="1.1" font-family="Liberation Serif">国</text><text x="375.4" y="3228.6" transform="rotate(-39 375.4 3228.6)" text-anchor="middle" dominant-baseline="central" font-size="42" fill="none" stroke="#c4c4c4" stroke-opacity="0.55" stroke-width="1.1" font-family="Liberation Serif">机</text><text x="430.6" y="3183.4" transform="rotate(-39 430.6 3183.4)" text-anchor="middle" dominant-baseline="central" font-size="42" fill="none" stroke="#c4c4c4" stroke-opacity="0.55" stroke-width="1.1" font-family="Liberation Serif">械</text><text x="485.8" y="3138.2" transform="rotate(-39 485.8 3138.2)" text-anchor="middle" dominant-baseline="central" font-size="42" fill="none" stroke="#c4c4c4" stroke-opacity="0.55" stroke-width="1.1" font-family="Liberation Serif">工</text><text x="541" y="3093" transform="rotate(-39 541 3093)" text-anchor="middle" dominant-baseline="central" font-size="42" fill="none" stroke="#c4c4c4" stroke-opacity="0.55" stroke-width="1.1" font-family="Liberation Serif">业</text><text x="596.2" y="3047.8" transform="rotate(-39 596.2 3047.8)" text-anchor="middle" dominant-baseline="central" font-size="42" fill="none" stroke="#c4c4c4" stroke-opacity="0.55" stroke-width="1.1" font-family="Liberation Serif">联</text><text x="651.4" y="3002.6" transform="rotate(-39 651.4 3002.6)" text-anchor="middle" dominant-baseline="central" font-size="42" fill="none" stroke="#c4c4c4" stroke-opacity="0.55" stroke-width="1.1" font-family="Liberation Serif">合</text><text x="706.6" y="2957.4" transform="rotate(-39 706.6 2957.4)" text-anchor="middle" dominant-baseline="central" font-size="42" fill="none" stroke="#c4c4c4" stroke-opacity="0.55" stroke-width="1.1" font-family="Liberation Serif">会</text>
<text x="129.4" y="3289.2" text-anchor="end" dominant-baseline="central" font-size="19" fill="#6b6b6b" font-family="Liberation Serif">0</text>
<text x="129.4" y="3238.7" text-anchor="end" dominant-baseline="central" font-size="19" fill="#6b6b6b" font-family="Liberation Serif">10000</text>
<text x="129.4" y="3188.2" text-anchor="end" dominant-baseline="central" font-size="19" fill="#6b6b6b" font-family="Liberation Serif">20000</text>
<text x="129.4" y="3137.7" text-anchor="end" dominant-baseline="central" font-size="19" fill="#6b6b6b" font-family="Liberation Serif">30000</text>
<text x="129.4" y="3087.2" text-anchor="end" dominant-baseline="central" font-size="19" fill="#6b6b6b" font-family="Liberation Serif">40000</text>
<text x="129.4" y="3036.7" text-anchor="end" dominant-baseline="central" font-size="19" fill="#6b6b6b" font-family="Liberation Serif">50000</text>
<text x="129.4" y="2986.2" text-anchor="end" dominant-baseline="central" font-size="19" fill="#6b6b6b" font-family="Liberation Serif">60000</text>
<text x="129.4" y="2935.7" text-anchor="end" dominant-baseline="central" font-size="19" fill="#6b6b6b" font-family="Liberation Serif">70000</text>
<text x="830.5" y="3289.2" dominant-baseline="central" font-size="19" fill="#6b6b6b" font-family="Liberation Serif">-25</text>
<text x="830.5" y="3249.9" dominant-baseline="central" font-size="19" fill="#6b6b6b" font-family="Liberation Serif">-20</text>
<text x="830.5" y="3210.6" dominant-baseline="central" font-size="19" fill="#6b6b6b" font-family="Liberation Serif">-15</text>
<text x="830.5" y="3171.3" dominant-baseline="central" font-size="19" fill="#6b6b6b" font-family="Liberation Serif">-10</text>
<text x="830.5" y="3132" dominant-baseline="central" font-size="19" fill="#6b6b6b" font-family="Liberation Serif">-5</text>
<text x="830.5" y="3092.7" dominant-baseline="central" font-size="19" fill="#6b6b6b" font-family="Liberation Serif">0</text>
<text x="830.5" y="3053.4" dominant-baseline="central" font-size="19" fill="#6b6b6b" font-family="Liberation Serif">5</text>
<text x="830.5" y="3014.1" dominant-baseline="central" font-size="19" fill="#6b6b6b" font-family="Liberation Serif">10</text>
<text x="830.5" y="2974.8" dominant-baseline="central" font-size="19" fill="#6b6b6b" font-family="Liberation Serif">15</text>
<text x="830.5" y="2935.5" dominant-baseline="central" font-size="19" fill="#6b6b6b" font-family="Liberation Serif">20</text>
<text x="178.4" y="3316.5" text-anchor="middle" dominant-baseline="central" font-size="18" fill="#6b6b6b" font-family="Liberation Serif">8月</text>
<text x="233.8" y="3316.5" text-anchor="middle" dominant-baseline="central" font-size="18" fill="#6b6b6b" font-family="Liberation Serif">9月</text>
<text x="289.2" y="3316.5" text-anchor="middle" dominant-baseline="central" font-size="18" fill="#6b6b6b" font-family="Liberation Serif">10月</text>
<text x="344.7" y="3316.5" text-anchor="middle" dominant-baseline="central" font-size="18" fill="#6b6b6b" font-family="Liberation Serif">11月</text>
<text x="400.1" y="3316.5" text-anchor="middle" dominant-baseline="central" font-size="18" fill="#6b6b6b" font-family="Liberation Serif">12月</text>
<text x="455.5" y="3316.5" text-anchor="middle" dominant-baseline="central" font-size="18" fill="#6b6b6b" font-family="Liberation Serif">1-2月</text>
<text x="510.9" y="3316.5" text-anchor="middle" dominant-baseline="central" font-size="18" fill="#6b6b6b" font-family="Liberation Serif">3月</text>
<text x="566.3" y="3316.5" text-anchor="middle" dominant-baseline="central" font-size="18" fill="#6b6b6b" font-family="Liberation Serif">4月</text>
<text x="621.8" y="3316.5" text-anchor="middle" dominant-baseline="central" font-size="18" fill="#6b6b6b" font-family="Liberation Serif">5月</text>
<text x="677.2" y="3316.5" text-anchor="middle" dominant-baseline="central" font-size="18" fill="#6b6b6b" font-family="Liberation Serif">6月</text>
<text x="732.6" y="3316.5" text-anchor="middle" dominant-baseline="central" font-size="18" fill="#6b6b6b" font-family="Liberation Serif">7月</text>
<text x="788" y="3316.5" text-anchor="middle" dominant-baseline="central" font-size="18" fill="#6b6b6b" font-family="Liberation Serif">8月</text>
<text x="258" y="3359.5" text-anchor="middle" dominant-baseline="central" font-size="18" fill="#6b6b6b" font-family="Liberation Serif">2022年</text>
<text x="600" y="3359.5" text-anchor="middle" dominant-baseline="central" font-size="18" fill="#6b6b6b" font-family="Liberation Serif">2023年</text>
<text x="470" y="2897.8" text-anchor="middle" dominant-baseline="central" font-size="23.5" fill="#595959" font-family="Liberation Sans">工业机器人月度产量及增速</text>
<text x="149" y="2914.3" dominant-baseline="central" font-size="19" fill="#262626" font-family="Liberation Sans">台</text>
<text x="799" y="2921" text-anchor="middle" dominant-baseline="central" font-size="17" fill="#111" font-family="Liberation Sans">%</text>
<text x="867" y="3434.4" text-anchor="end" dominant-baseline="central" font-size="17.5" font-weight="bold" fill="#333" font-family="Liberation Sans">数据来源：国家统计局</text>
</svg>
<svg width="942" height="3824" style="top:0">
<path d="M123.9,3594 L125.6,3564.5 L155,3561 L156.8,3552.4 L149.8,3535 L151.6,3524.6 L163.7,3516 L182.8,3526.4 L201.8,3521.2 L203.6,3502 L231.3,3500.4 L234.7,3521.2 L255.5,3526.4 L271.1,3516 L285,3528 L279.8,3549 L286.7,3559.3 L311,3564.5 L316.2,3594" fill="none" stroke="#111" stroke-width="5" stroke-linejoin="round"/>
<path d="M171,3598 A49.5,48 0 0 1 270,3598" fill="none" stroke="#111" stroke-width="5"/>

<g fill="#f01e1e">
<path d="M146,3598 C142,3595 138,3594.5 135,3594.5 L124,3595.4 C117,3597 110,3605 106.7,3611.4 C104,3617 103,3625 105.8,3629.6 C108,3634 113,3637 123,3637.4 L135.2,3634 L133.5,3618 L124,3618 Q120,3615.7 124,3613.5 L135.2,3612.7Z"/>
<path d="M161.5,3637 L174,3594 L190.4,3594 L194.5,3603 L204.6,3593.3 L219.3,3593.3 L205.8,3637 L191.6,3637 L195.7,3618 L189.2,3622 L183.3,3618.7 L178,3637Z"/>
<path d="M258,3593.5 L272.3,3593.5 L260,3638 L243,3638Z"/>
<path d="M296,3593.5 L328,3593.5 L324.2,3604 L308.2,3604 L305.3,3613.4 L318.6,3613.4 L314.8,3623.8 L302.5,3623.8 L298.7,3638 L283.6,3638Z"/>
</g>
</svg>
<div class="abs" style="left:480px;top:3550px;width:388px;text-align:right;font-size:30px;line-height:40px;color:#333;white-space:nowrap;letter-spacing:0.6px">中国机械联统计信息部整理</div>
<div class="abs" style="left:480px;top:3598px;width:388px;text-align:right;font-size:30px;line-height:40px;color:#333;white-space:nowrap;letter-spacing:0.6px">联系电话：<span style="font-family:'Liberation Serif',serif;font-size:30px;letter-spacing:1.2px">010-68513781</span></div>
<svg width="942" height="600" style="top:0">
<defs><linearGradient id="rg" x1="0" y1="0" x2="1" y2="0"><stop offset="0" stop-color="#f65a2a"/><stop offset="1" stop-color="#d3302a"/></linearGradient>
<filter id="rsh" x="-30%" y="-30%" width="160%" height="160%"><feDropShadow dx="-1" dy="2" stdDeviation="2" flood-color="#1a0f70" flood-opacity="0.45"/></filter></defs>
<path d="M942,356.5 A94.5,94.5 0 1 0 942,545.5 A94.5,94.5 0 1 0 942,356.5Z M942,387 A64,64 0 1 1 942,515 A64,64 0 1 1 942,387Z" fill="url(#rg)" fill-rule="evenodd" filter="url(#rsh)"/>
</svg>
</div></div></body></html>
